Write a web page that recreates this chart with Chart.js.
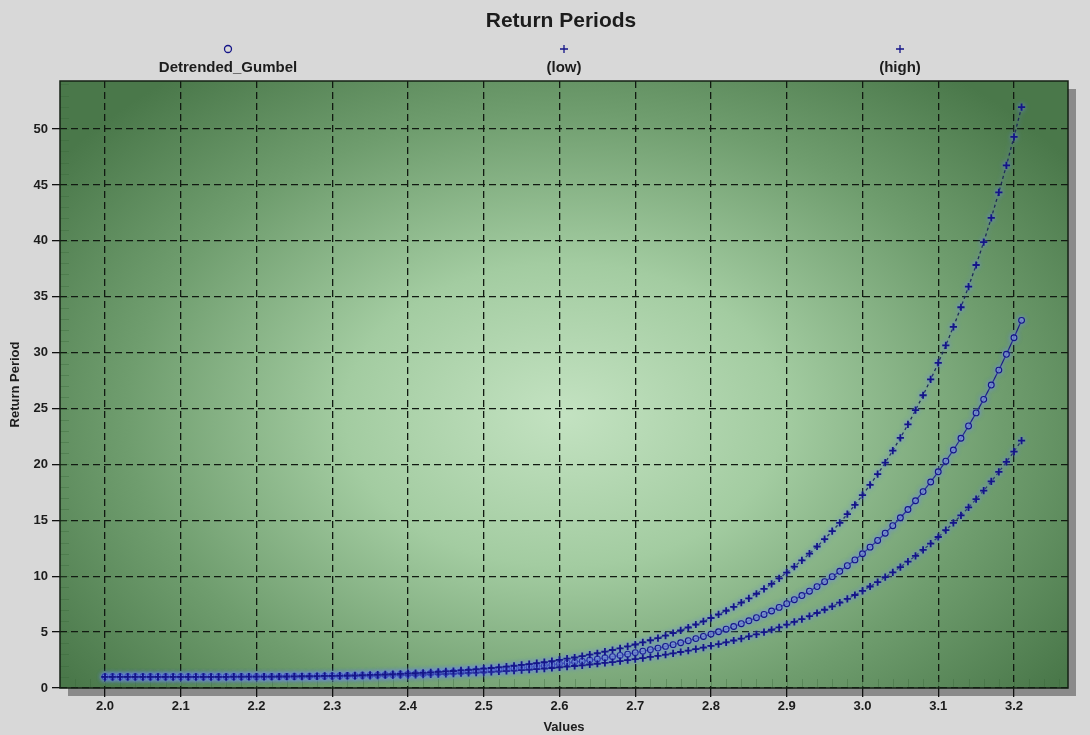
<!DOCTYPE html>
<html>
<head>
<meta charset="utf-8">
<title>Return Periods</title>
<script src="https://cdn.jsdelivr.net/npm/chart.js@4.4.1/dist/chart.umd.min.js"></script>
<style>
  html, body { margin: 0; padding: 0; background: #d8d8d8; }
  #wrap { width: 1090px; height: 735px; position: relative; }
  canvas { display: block; }
</style>
</head>
<body>
<div id="wrap"><canvas id="chart" width="1090" height="735"></canvas></div>
<script>
// ---- text ----
const chartTitle = 'Return Periods';
const xAxisTitle = 'Values';
const yAxisTitle = 'Return Period';
const seriesNames = ['Detrended_Gumbel', '(low)', '(high)'];

// ---- tick labels ----
const xTickLabels = ['2.0', '2.1', '2.2', '2.3', '2.4', '2.5', '2.6', '2.7', '2.8', '2.9', '3.0', '3.1', '3.2'];
const yTickLabels = ['0', '5', '10', '15', '20', '25', '30', '35', '40', '45', '50'];

// ---- values (x) ----
const xValues = [
  2.00, 2.01, 2.02, 2.03, 2.04, 2.05, 2.06, 2.07, 2.08, 2.09,
  2.10, 2.11, 2.12, 2.13, 2.14, 2.15, 2.16, 2.17, 2.18, 2.19,
  2.20, 2.21, 2.22, 2.23, 2.24, 2.25, 2.26, 2.27, 2.28, 2.29,
  2.30, 2.31, 2.32, 2.33, 2.34, 2.35, 2.36, 2.37, 2.38, 2.39,
  2.40, 2.41, 2.42, 2.43, 2.44, 2.45, 2.46, 2.47, 2.48, 2.49,
  2.50, 2.51, 2.52, 2.53, 2.54, 2.55, 2.56, 2.57, 2.58, 2.59,
  2.60, 2.61, 2.62, 2.63, 2.64, 2.65, 2.66, 2.67, 2.68, 2.69,
  2.70, 2.71, 2.72, 2.73, 2.74, 2.75, 2.76, 2.77, 2.78, 2.79,
  2.80, 2.81, 2.82, 2.83, 2.84, 2.85, 2.86, 2.87, 2.88, 2.89,
  2.90, 2.91, 2.92, 2.93, 2.94, 2.95, 2.96, 2.97, 2.98, 2.99,
  3.00, 3.01, 3.02, 3.03, 3.04, 3.05, 3.06, 3.07, 3.08, 3.09,
  3.10, 3.11, 3.12, 3.13, 3.14, 3.15, 3.16, 3.17, 3.18, 3.19,
  3.20, 3.21
];

// ---- return periods: fitted Detrended_Gumbel ----
const gumbelValues = [
  1.00, 1.00, 1.00, 1.00, 1.00, 1.00, 1.00, 1.00, 1.00, 1.00,
  1.00, 1.00, 1.00, 1.00, 1.00, 1.00, 1.00, 1.01, 1.01, 1.01,
  1.01, 1.01, 1.02, 1.02, 1.03, 1.03, 1.04, 1.04, 1.05, 1.06,
  1.07, 1.08, 1.09, 1.10, 1.12, 1.13, 1.15, 1.17, 1.19, 1.21,
  1.23, 1.26, 1.28, 1.31, 1.34, 1.37, 1.41, 1.44, 1.48, 1.52,
  1.56, 1.61, 1.66, 1.71, 1.76, 1.82, 1.88, 1.94, 2.01, 2.08,
  2.16, 2.24, 2.32, 2.40, 2.50, 2.59, 2.70, 2.80, 2.91, 3.03,
  3.16, 3.29, 3.43, 3.57, 3.72, 3.88, 4.05, 4.23, 4.42, 4.61,
  4.82, 5.03, 5.26, 5.50, 5.75, 6.01, 6.29, 6.58, 6.89, 7.21,
  7.54, 7.90, 8.27, 8.66, 9.07, 9.51, 9.96, 10.44, 10.94, 11.46,
  12.01, 12.60, 13.20, 13.85, 14.52, 15.23, 15.97, 16.75, 17.57, 18.43,
  19.34, 20.29, 21.29, 22.34, 23.44, 24.61, 25.82, 27.10, 28.44, 29.85,
  31.33, 32.89
];

// ---- return periods: (low) bound ----
const lowValues = [
  1.00, 1.00, 1.00, 1.00, 1.00, 1.00, 1.00, 1.00, 1.00, 1.00,
  1.00, 1.00, 1.00, 1.00, 1.00, 1.00, 1.00, 1.01, 1.01, 1.01,
  1.01, 1.02, 1.02, 1.03, 1.03, 1.04, 1.05, 1.05, 1.06, 1.08,
  1.09, 1.10, 1.12, 1.13, 1.15, 1.17, 1.19, 1.21, 1.24, 1.27,
  1.30, 1.33, 1.36, 1.40, 1.44, 1.48, 1.52, 1.57, 1.62, 1.67,
  1.73, 1.79, 1.85, 1.92, 1.99, 2.06, 2.14, 2.23, 2.32, 2.41,
  2.51, 2.62, 2.73, 2.85, 2.98, 3.11, 3.25, 3.40, 3.55, 3.72,
  3.89, 4.08, 4.27, 4.47, 4.69, 4.92, 5.16, 5.41, 5.68, 5.96,
  6.26, 6.58, 6.91, 7.26, 7.63, 8.02, 8.43, 8.87, 9.32, 9.81,
  10.32, 10.86, 11.42, 12.02, 12.66, 13.32, 14.03, 14.77, 15.55, 16.38,
  17.25, 18.17, 19.14, 20.16, 21.24, 22.38, 23.58, 24.85, 26.19, 27.60,
  29.08, 30.65, 32.31, 34.06, 35.90, 37.84, 39.89, 42.05, 44.34, 46.75,
  49.30, 51.97
];

// ---- return periods: (high) bound ----
const highValues = [
  1.00, 1.00, 1.00, 1.00, 1.00, 1.00, 1.00, 1.00, 1.00, 1.00,
  1.00, 1.00, 1.00, 1.00, 1.00, 1.00, 1.00, 1.00, 1.00, 1.01,
  1.01, 1.01, 1.01, 1.01, 1.02, 1.02, 1.02, 1.03, 1.03, 1.04,
  1.05, 1.05, 1.06, 1.07, 1.08, 1.09, 1.10, 1.12, 1.13, 1.15,
  1.16, 1.18, 1.20, 1.22, 1.24, 1.27, 1.29, 1.32, 1.35, 1.38,
  1.41, 1.44, 1.48, 1.52, 1.56, 1.60, 1.64, 1.69, 1.74, 1.79,
  1.85, 1.91, 1.97, 2.03, 2.10, 2.17, 2.24, 2.32, 2.40, 2.49,
  2.58, 2.68, 2.78, 2.88, 2.99, 3.10, 3.22, 3.35, 3.48, 3.62,
  3.77, 3.92, 4.08, 4.25, 4.42, 4.61, 4.80, 5.00, 5.21, 5.43,
  5.67, 5.91, 6.16, 6.43, 6.71, 7.00, 7.31, 7.63, 7.97, 8.32,
  8.69, 9.08, 9.48, 9.91, 10.35, 10.82, 11.31, 11.82, 12.36, 12.92,
  13.51, 14.12, 14.77, 15.44, 16.15, 16.89, 17.66, 18.48, 19.33, 20.22,
  21.15, 22.13
];

// ---- drawing ----
const FONT = '"Liberation Sans", Arial, Helvetica, sans-serif';
const NAVY = '#141488';
const TEXT = '#1c1c1c';

function toPoints(ys) {
  return xValues.map((x, i) => ({ x: x, y: ys[i] }));
}

// green shaded panel with drop shadow behind the plot area
const plotBackground = {
  id: 'plotBackground',
  beforeDraw(chart) {
    const { ctx, chartArea } = chart;
    const { left, top, right, bottom } = chartArea;
    const w = right - left, h = bottom - top;
    ctx.save();
    ctx.fillStyle = '#8a8a8a';
    ctx.fillRect(left + 8, top + 8, w, h);
    ctx.fillStyle = '#4a784a';
    ctx.fillRect(left, top, w, h);
    const cx = left + w * 0.5, cy = top + h * 0.55;
    const s = (h / w) * 1.15;
    ctx.translate(cx, cy);
    ctx.scale(1, s);
    const g = ctx.createRadialGradient(0, 0, 0, 0, 0, w * 0.62);
    g.addColorStop(0, '#c3e2c1');
    g.addColorStop(0.35, '#a3cca1');
    g.addColorStop(0.7, '#6f9d6e');
    g.addColorStop(1, '#4a784a');
    ctx.fillStyle = g;
    ctx.fillRect(left - cx, (top - cy) / s, w, h / s);
    ctx.restore();
  },
  // faint minor ticks along the inner bottom and left edges
  beforeDatasetsDraw(chart) {
    const { ctx, chartArea, scales } = chart;
    ctx.save();
    ctx.strokeStyle = 'rgba(55, 100, 55, 0.35)';
    ctx.lineWidth = 1;
    ctx.beginPath();
    for (let k = 98; k <= 163; k++) {
      const px = Math.round(scales.x.getPixelForValue(k / 50)) + 0.5;
      ctx.moveTo(px, chartArea.bottom);
      ctx.lineTo(px, chartArea.bottom - 9);
    }
    for (let k = 1; k <= 54; k++) {
      const py = Math.round(scales.y.getPixelForValue(k)) + 0.5;
      ctx.moveTo(chartArea.left, py);
      ctx.lineTo(chartArea.left + 9, py);
    }
    ctx.stroke();
    ctx.restore();
  }
};

// soft blue halo round the curves and markers
const curveGlow = {
  id: 'curveGlow',
  beforeDatasetsDraw(chart) {
    const ctx = chart.ctx;
    ctx.save();
    ctx.shadowColor = 'rgba(110, 140, 240, 0.95)';
    ctx.shadowBlur = 5;
  },
  afterDatasetsDraw(chart) {
    chart.ctx.restore();
  }
};

// frame, title and the marker-over-label legend
const frameTitleLegend = {
  id: 'frameTitleLegend',
  afterDraw(chart) {
    const { ctx, chartArea } = chart;
    const { left, top, right, bottom } = chartArea;
    const w = right - left;
    ctx.save();
    ctx.strokeStyle = '#142014';
    ctx.lineWidth = 1.5;
    ctx.strokeRect(left, top, w, bottom - top);

    ctx.fillStyle = TEXT;
    ctx.textAlign = 'center';
    ctx.textBaseline = 'alphabetic';
    ctx.font = 'bold 21px ' + FONT;
    ctx.fillText(chartTitle, (left + right) / 2 - 3, 27);

    chart.data.datasets.forEach((ds, i) => {
      const cx = left + w * (i + 0.5) / 3;
      const my = 49;
      ctx.strokeStyle = NAVY;
      ctx.lineWidth = 1.3;
      ctx.beginPath();
      if (ds.pointStyle === 'circle') {
        ctx.arc(cx, my, 3.5, 0, Math.PI * 2);
      } else {
        ctx.moveTo(cx - 4, my); ctx.lineTo(cx + 4, my);
        ctx.moveTo(cx, my - 4); ctx.lineTo(cx, my + 4);
      }
      ctx.stroke();
      ctx.fillStyle = TEXT;
      ctx.font = 'bold 15px ' + FONT;
      ctx.fillText(ds.label, cx, 72);
    });
    ctx.restore();
  }
};

const tickFont = { family: FONT, size: 13, weight: 'bold' };

new Chart(document.getElementById('chart'), {
  type: 'line',
  data: {
    datasets: [
      {
        label: seriesNames[0],
        data: toPoints(gumbelValues),
        order: 2,
        borderColor: '#1a1a80',
        borderWidth: 1.2,
        pointStyle: 'circle',
        pointRadius: 2.9,
        pointBorderWidth: 1.1,
        pointBorderColor: NAVY,
        pointBackgroundColor: 'rgba(130, 150, 205, 0.6)',
        tension: 0
      },
      {
        label: seriesNames[1],
        data: toPoints(lowValues),
        order: 1,
        borderColor: '#1e2a55',
        borderWidth: 1.3,
        borderDash: [3, 3],
        pointStyle: 'cross',
        pointRadius: 3.6,
        pointBorderWidth: 1.8,
        pointBorderColor: NAVY,
        tension: 0
      },
      {
        label: seriesNames[2],
        data: toPoints(highValues),
        order: 1,
        borderColor: '#1e2a55',
        borderWidth: 1.3,
        borderDash: [3, 3],
        pointStyle: 'cross',
        pointRadius: 3.6,
        pointBorderWidth: 1.8,
        pointBorderColor: NAVY,
        tension: 0
      }
    ]
  },
  options: {
    responsive: false,
    animation: false,
    devicePixelRatio: 1,
    layout: { padding: { top: 81, left: 0, right: 22, bottom: 0 } },
    plugins: {
      legend: { display: false },
      title: { display: false },
      tooltip: { enabled: false }
    },
    scales: {
      x: {
        type: 'linear',
        min: 1.9406,
        max: 3.2713,
        afterBuildTicks: (scale) => {
          scale.ticks = xTickLabels.map(t => ({ value: parseFloat(t) }));
        },
        afterFit: (scale) => { scale.height = 47; },
        ticks: {
          callback: (v, i) => xTickLabels[i],
          font: tickFont,
          color: TEXT,
          padding: 2,
          maxRotation: 0,
          autoSkip: false
        },
        grid: {
          color: '#111a11',
          lineWidth: 1.3,
          tickLength: 9,
          tickColor: '#111',
          tickWidth: 1.3
        },
        border: { display: false, dash: [7, 4] },
        title: {
          display: true,
          text: xAxisTitle,
          font: { family: FONT, size: 13, weight: 'bold' },
          color: TEXT,
          padding: { top: 0, bottom: 0 }
        }
      },
      y: {
        type: 'linear',
        min: 0,
        max: 54.3,
        afterBuildTicks: (scale) => {
          scale.ticks = yTickLabels.map(t => ({ value: parseFloat(t) }));
        },
        afterFit: (scale) => { scale.width = 60; },
        ticks: {
          callback: (v, i) => yTickLabels[i],
          font: tickFont,
          color: TEXT,
          padding: 4,
          autoSkip: false
        },
        grid: {
          color: '#111a11',
          lineWidth: 1.3,
          tickLength: 8,
          tickColor: '#111',
          tickWidth: 1.3
        },
        border: { display: false, dash: [7, 4] },
        title: {
          display: true,
          text: yAxisTitle,
          font: { family: FONT, size: 13, weight: 'bold' },
          color: TEXT,
          padding: { top: 8, bottom: 0 }
        }
      }
    }
  },
  plugins: [plotBackground, curveGlow, frameTitleLegend]
});
</script>
</body>
</html>
